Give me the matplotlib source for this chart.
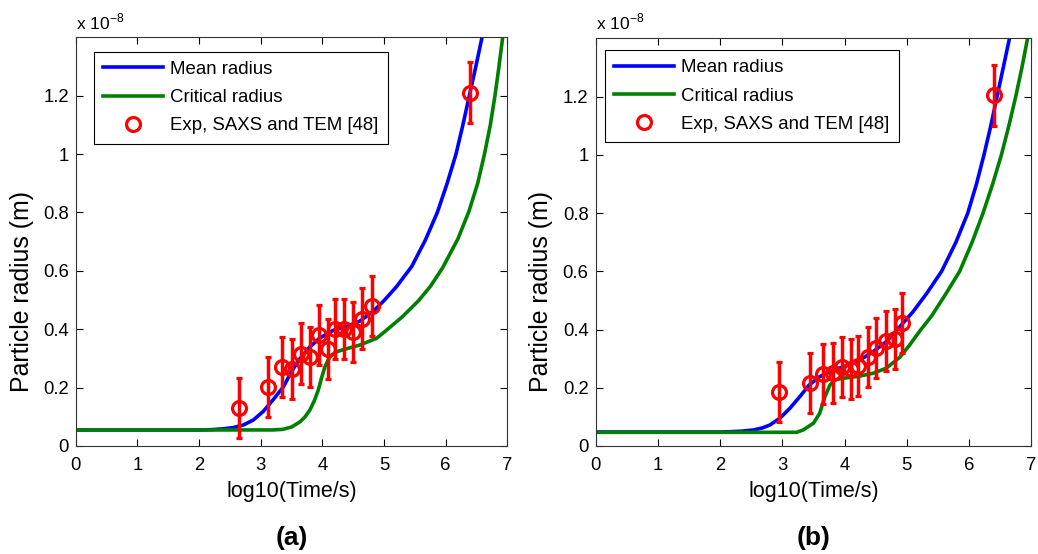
import matplotlib
matplotlib.use("Agg")
import matplotlib.pyplot as plt
from matplotlib.lines import Line2D

plt.rcParams['font.family'] = ['Liberation Sans', 'DejaVu Sans']
plt.rcParams['mathtext.fontset'] = 'custom'
plt.rcParams['mathtext.rm'] = 'Liberation Sans'

# ---- panel (a) data, radius in units of 1e-8 m ----
a_mean_x = [0, 1.0, 2.0, 2.2, 2.4, 2.55, 2.72, 2.88, 3.04, 3.2, 3.37, 3.5, 3.64, 3.8, 3.96,
            4.175, 4.4, 4.61, 4.83, 5.0, 5.2, 5.45, 5.67, 5.865, 6.025, 6.168, 6.28, 6.384, 6.49, 6.59]
a_mean_y = [0.055, 0.055, 0.055, 0.056, 0.059, 0.063, 0.072, 0.089, 0.118, 0.158, 0.203, 0.255, 0.300, 0.340, 0.370,
            0.396, 0.410, 0.428, 0.462, 0.498, 0.545, 0.615, 0.705, 0.800, 0.900, 1.000, 1.100, 1.200, 1.300, 1.400]
a_crit_x = [0, 2.0, 3.0, 3.2, 3.36, 3.5, 3.64, 3.72, 3.8, 3.87, 3.935, 3.99, 4.043, 4.1, 4.15, 4.25, 4.34,
            4.61, 4.88, 5.02, 5.3, 5.557, 5.75, 5.95, 6.2, 6.38, 6.52, 6.63, 6.725, 6.80, 6.865, 6.925]
a_crit_y = [0.055, 0.055, 0.055, 0.055, 0.057, 0.065, 0.083, 0.100, 0.124, 0.155, 0.192, 0.235, 0.272, 0.297, 0.312, 0.324, 0.330,
            0.346, 0.369, 0.393, 0.443, 0.497, 0.546, 0.610, 0.710, 0.805, 0.900, 1.000, 1.100, 1.200, 1.300, 1.400]
a_exp_x = [2.65, 3.12, 3.35, 3.50, 3.65, 3.80, 3.95, 4.10, 4.20, 4.35, 4.50, 4.65, 4.80, 6.40]
a_exp_y = [0.131, 0.203, 0.270, 0.264, 0.316, 0.306, 0.380, 0.332, 0.400, 0.402, 0.391, 0.436, 0.480, 1.210]
a_exp_err = [0.102, 0.102, 0.103, 0.104, 0.104, 0.103, 0.104, 0.104, 0.103, 0.103, 0.103, 0.104, 0.104, 0.104]

# ---- panel (b) data ----
b_mean_x = [0, 2.0, 2.16, 2.35, 2.533, 2.68, 2.80, 2.96, 3.12, 3.28, 3.43, 3.60, 3.82, 4.03, 4.245,
            4.46, 4.67, 4.89, 5.10, 5.32, 5.56, 5.79, 5.98, 6.12, 6.24, 6.35, 6.45, 6.55, 6.65]
b_mean_y = [0.048, 0.048, 0.049, 0.051, 0.055, 0.062, 0.072, 0.095, 0.129, 0.169, 0.209, 0.238, 0.261, 0.275, 0.295,
            0.324, 0.358, 0.410, 0.461, 0.524, 0.600, 0.700, 0.800, 0.900, 1.000, 1.100, 1.200, 1.300, 1.400]
b_crit_x = [0, 2.5, 3.23, 3.335, 3.50, 3.60, 3.685, 3.765, 3.845, 3.93, 4.03, 4.245, 4.46, 4.67, 4.89,
            5.05, 5.21, 5.40, 5.62, 5.85, 6.05, 6.225, 6.38, 6.52, 6.64, 6.75, 6.85, 6.94]
b_crit_y = [0.047, 0.047, 0.047, 0.055, 0.078, 0.112, 0.169, 0.209, 0.227, 0.231, 0.234, 0.240, 0.250, 0.267, 0.305,
            0.348, 0.395, 0.447, 0.520, 0.600, 0.700, 0.800, 0.900, 1.000, 1.100, 1.200, 1.300, 1.400]
b_exp_x = [2.95, 3.44, 3.66, 3.81, 3.96, 4.11, 4.22, 4.37, 4.51, 4.66, 4.81, 4.92, 6.40]
b_exp_y = [0.186, 0.215, 0.246, 0.252, 0.270, 0.263, 0.274, 0.304, 0.335, 0.360, 0.366, 0.421, 1.204]
b_exp_err = [0.103, 0.103, 0.103, 0.103, 0.103, 0.103, 0.103, 0.103, 0.103, 0.103, 0.103, 0.103, 0.104]

x_ticks = [0, 1, 2, 3, 4, 5, 6, 7]
y_ticks = [0, 0.2, 0.4, 0.6, 0.8, 1.0, 1.2]
y_ticklabels = ['0', '0.2', '0.4', '0.6', '0.8', '1', '1.2']
labels = ['Mean radius', 'Critical radius', 'Exp, SAXS and TEM [48]']

W, H = 1038, 554
fig = plt.figure(figsize=(W / 100, H / 100), dpi=100)

panels = [
    # left, right, top (pixels), legend anchor, tag
    (75.7, 507.3, 37.3, (0.0424, 0.965), '(a)',
     a_mean_x, a_mean_y, a_crit_x, a_crit_y, a_exp_x, a_exp_y, a_exp_err),
    (595.5, 1031.3, 38.3, (0.022, 0.971), '(b)',
     b_mean_x, b_mean_y, b_crit_x, b_crit_y, b_exp_x, b_exp_y, b_exp_err),
]
bottom = 446.0

for (l, r, t, leg_anchor, tag, mx, my, cx, cy, ex, ey, ee) in panels:
    ax = fig.add_axes([l / W, (H - bottom) / H, (r - l) / W, (bottom - t) / H])
    ax.plot(mx, my, color=(0, 0, 1), lw=2.6, solid_joinstyle='round')
    ax.plot(cx, cy, color=(0, 0.5, 0), lw=2.6, solid_joinstyle='round')
    ax.errorbar(ex, ey, yerr=ee, fmt='o', color='red', mfc='none', mec='red',
                ms=10, mew=2.3, elinewidth=2.5, capsize=2, capthick=2.5)

    ax.set_xlim(0, 7)
    ax.set_ylim(0, 1.4)
    ax.set_xticks(x_ticks)
    ax.set_yticks(y_ticks)
    ax.set_yticklabels(y_ticklabels)
    ax.tick_params(direction='in', top=True, right=True, length=5, width=0.8,
                   labelsize=13.3, colors='black')
    ax.tick_params(axis='x', pad=8)
    ax.tick_params(axis='y', pad=5)
    for s in ax.spines.values():
        s.set_linewidth(0.8)
        s.set_color('#333333')

    ax.text(0.5, (bottom - 491) / (bottom - t), 'log10(Time/s)', transform=ax.transAxes,
            ha='center', va='center', fontsize=15.5)
    ax.text(-0.125, (bottom - 291.5) / (bottom - t), 'Particle radius (m)', transform=ax.transAxes,
            ha='center', va='center', rotation=90, fontsize=17.9)
    ax.text(0.0, (bottom - 22) / (bottom - t), r'x 10$^{\mathregular{-8}}$', transform=ax.transAxes,
            ha='left', va='center', fontsize=12.5)
    ax.text(0.5, (bottom - 538) / (bottom - t), tag, transform=ax.transAxes,
            ha='center', va='center', fontsize=19, fontweight='bold')

    handles = [Line2D([], [], color=(0, 0, 1), lw=2.6),
               Line2D([], [], color=(0, 0.5, 0), lw=2.6),
               Line2D([], [], ls='none', marker='o', ms=10, mew=2.3, mfc='none', mec='red')]
    leg = ax.legend(handles, labels, loc='upper left', bbox_to_anchor=leg_anchor,
                    borderaxespad=0, fancybox=False, framealpha=1, edgecolor='black',
                    fontsize=13.4, handlelength=3.2, handletextpad=0.38,
                    labelspacing=0.6, borderpad=0.5)
    leg.get_frame().set_linewidth(0.8)

fig.savefig('out.png', dpi=100)
